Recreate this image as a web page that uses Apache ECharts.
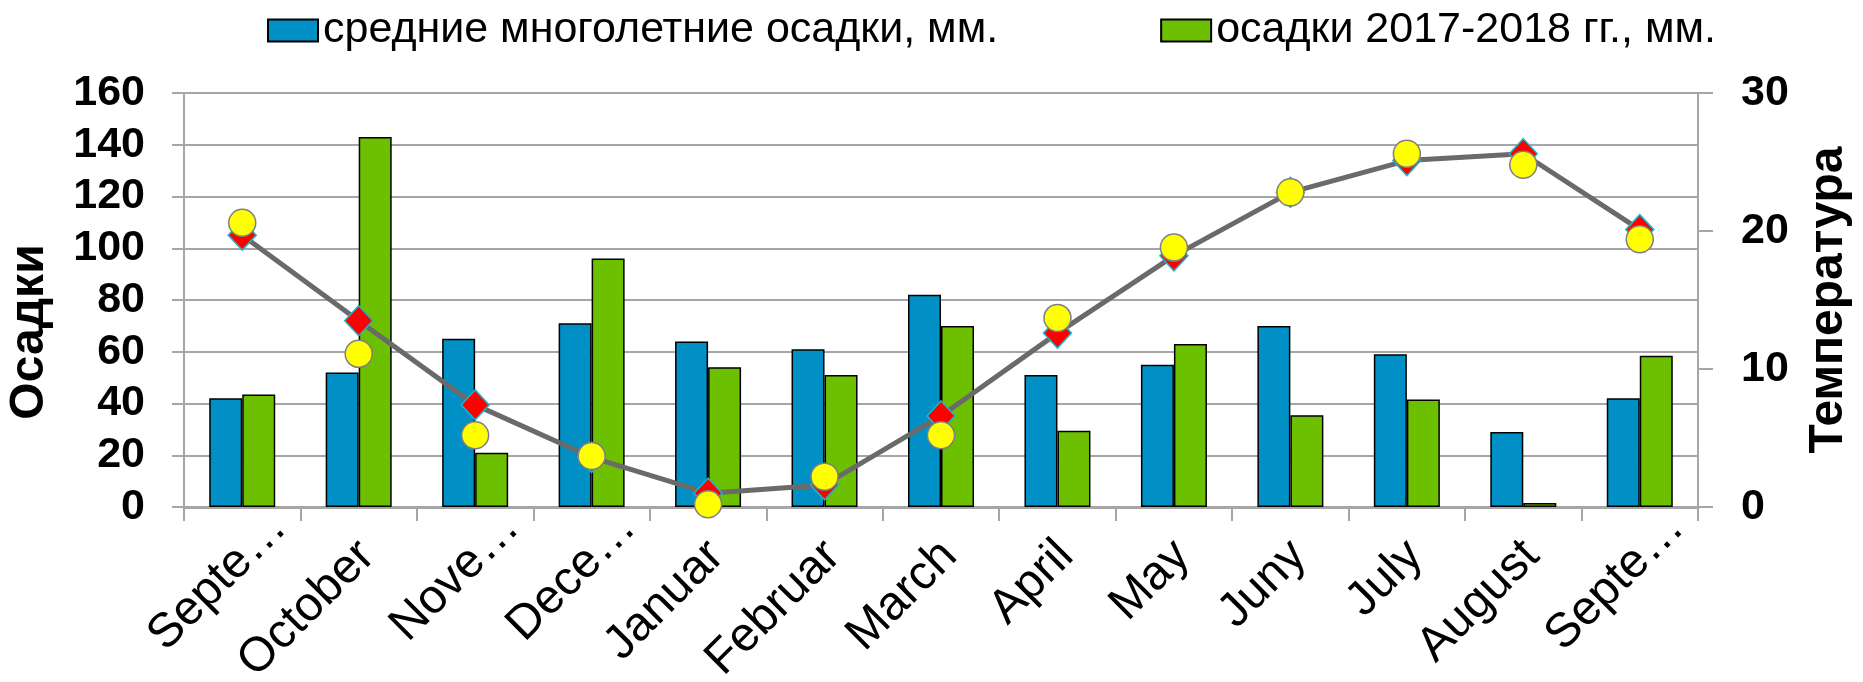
<!DOCTYPE html>
<html>
<head>
<meta charset="utf-8">
<script src="https://cdn.jsdelivr.net/npm/echarts@6/dist/echarts.min.js"></script>
<style>
  html, body { margin: 0; padding: 0; background: #fff; }
  #chart { width: 1863px; height: 682px; }
</style>
</head>
<body>
<div id="chart"></div>
<script>
// подписи месяцев (как на картинке, с обрезкой)
const months = ['Septe…', 'October', 'Nove…', 'Dece…', 'Januar', 'Februar', 'March', 'April', 'May', 'Juny', 'July', 'August', 'Septe…']
// осадки, мм
const avgPrecip = [42, 52, 65, 71, 64, 61, 82, 51, 55, 70, 59, 29, 42]
const precip1718 = [43.5, 143, 21, 96, 54, 51, 70, 29.5, 63, 35.5, 41.5, 1.5, 58.5]
// температура
const avgTemp = [19.7, 13.5, 7.4, 3.6, 1.0, 1.6, 6.6, 12.6, 18.2, 22.8, 25.1, 25.6, 20.1]
const temp1718 = [20.6, 11.1, 5.2, 3.7, 0.2, 2.2, 5.2, 13.7, 18.8, 22.8, 25.6, 24.8, 19.4]

const FONT = 'Liberation Sans, Arial, sans-serif'
const gray = '#a6a6a6'

const chart = echarts.init(document.getElementById('chart'))

// обрезанные подписи у Excel стоят правее и выше
const xData = months.map(m => {
  if (m.endsWith('…')) {
    return { value: m, textStyle: { padding: [0, -52, 22, 0] } }
  }
  return m
})

const option = {
  animation: false,
  textStyle: { fontFamily: FONT },
  legend: {
    left: 267,
    top: 9,
    padding: 0,
    itemWidth: 50,
    itemHeight: 22,
    itemGap: 162,
    icon: 'rect',
    data: ['средние многолетние осадки, мм.', 'осадки 2017-2018 гг., мм.'],
    textStyle: { fontSize: 43, color: '#000', fontFamily: FONT }
  },
  grid: { left: 184, right: 165, top: 93, bottom: 175, outerBoundsMode: 'none', containLabel: false },
  xAxis: {
    type: 'category',
    data: xData,
    axisLine: { lineStyle: { color: gray, width: 3 } },
    axisTick: { show: true, length: 14, lineStyle: { color: gray, width: 2 } },
    axisLabel: {
      interval: 0,
      rotate: 45,
      margin: 50,
      fontSize: 48,
      padding: [0, -12, 0, 0],
      color: '#000',
      fontFamily: FONT
    }
  },
  yAxis: [
    {
      type: 'value',
      min: 0,
      max: 160,
      interval: 20,
      name: 'Осадки',
      nameLocation: 'middle',
      nameRotate: 90,
      nameGap: 130,
      nameTextStyle: { fontSize: 48, fontWeight: 'bold', color: '#000', fontFamily: FONT, padding: [0, 64, 0, 0] },
      axisLine: { show: true, lineStyle: { color: gray, width: 2 } },
      axisTick: { show: true, length: 12, lineStyle: { color: gray, width: 2 } },
      axisLabel: { margin: 39, fontSize: 43, fontWeight: 'bold', color: '#000', fontFamily: FONT },
      splitLine: { lineStyle: { color: gray, width: 2 } }
    },
    {
      type: 'value',
      min: 0,
      max: 30,
      interval: 10,
      name: 'Температура',
      nameLocation: 'middle',
      nameRotate: 90,
      nameGap: 107,
      nameTextStyle: { fontSize: 48, fontWeight: 'bold', color: '#000', fontFamily: FONT },
      axisLine: { show: true, lineStyle: { color: gray, width: 2 } },
      axisTick: { show: true, length: 15, lineStyle: { color: gray, width: 2 } },
      axisLabel: { margin: 43, fontSize: 43, fontWeight: 'bold', color: '#000', fontFamily: FONT },
      splitLine: { show: false }
    }
  ],
  series: [
    {
      name: 'средние многолетние осадки, мм.',
      type: 'bar',
      data: avgPrecip,
      barWidth: 33,
      barGap: '0%',
      itemStyle: { color: '#0090c6', borderColor: '#000', borderWidth: 1.5 }
    },
    {
      name: 'осадки 2017-2018 гг., мм.',
      type: 'bar',
      data: precip1718,
      barWidth: 33,
      barGap: '0%',
      itemStyle: { color: '#6cc000', borderColor: '#000', borderWidth: 1.5 }
    },
    {
      name: 'средняя многолетняя температура',
      type: 'line',
      yAxisIndex: 1,
      data: avgTemp,
      symbol: 'diamond',
      symbolSize: [28, 30],
      lineStyle: { color: '#6a6a6a', width: 5 },
      itemStyle: { color: '#ff0000', borderColor: '#1cb5c6', borderWidth: 1.5 },
      z: 3
    },
    {
      name: 'температура 2017-2018 гг.',
      type: 'scatter',
      yAxisIndex: 1,
      data: temp1718,
      symbol: 'circle',
      symbolSize: 27,
      itemStyle: { color: '#ffff00', borderColor: '#7f7f7f', borderWidth: 1.5, opacity: 1 },
      z: 4
    }
  ]
}

chart.setOption(option)
</script>
</body>
</html>
